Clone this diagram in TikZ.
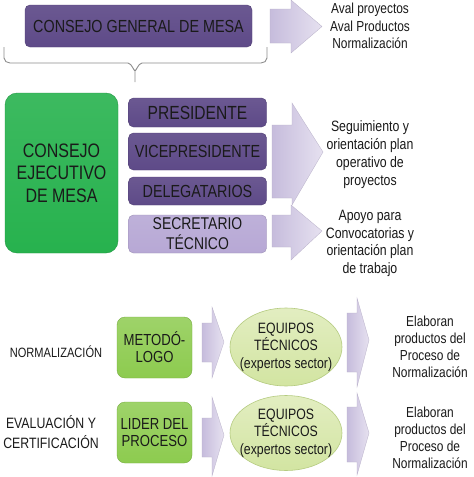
\documentclass[tikz,border=0pt]{standalone}
\usepackage{fontspec}
\setmainfont{Liberation Sans}[FakeStretch=0.82]
\usetikzlibrary{shapes.geometric}
\definecolor{dpurp}{HTML}{5E4A88}
\definecolor{lpurp}{HTML}{B7A8D5}
\definecolor{bgreen}{HTML}{27B24E}
\definecolor{lgreen}{HTML}{8DCB4F}
\definecolor{egreen}{HTML}{D6E6A6}
\definecolor{eborder}{HTML}{B5CB80}
\definecolor{arrL}{HTML}{C6BCDC}
\definecolor{arrR}{HTML}{E6E1F0}
\definecolor{txtc}{HTML}{1A1A1A}
\definecolor{bracec}{HTML}{8C8C8C}
\newcommand{\fs}[2]{\fontsize{#1}{#2}\selectfont}
\tikzset{
  txt/.style={text=txtc, align=center, inner sep=0pt},
  fsz/.style 2 args={font=\fs{#1}{#2}},
  pbox/.style={txt, draw=dpurp!85!black, line width=0.4pt, top color=dpurp!92!white, bottom color=dpurp, rounded corners=5pt},
  lpbox/.style={txt, draw=lpurp!85!black, line width=0.4pt, top color=lpurp!90!white, bottom color=lpurp, rounded corners=5pt},
  gbox/.style={txt, draw=bgreen!85!black, line width=0.4pt, top color=bgreen!90!white, bottom color=bgreen, rounded corners=12pt},
  lgbox/.style={txt, draw=lgreen!85!black, line width=0.4pt, top color=lgreen!85!white, bottom color=lgreen, rounded corners=8pt},
  eqell/.style={ellipse, inner sep=0pt, draw=eborder, line width=0.6pt, top color=egreen!70!white, bottom color=egreen!95!lgreen},
  blockarr/.style={left color=arrL, right color=arrR, draw=arrL!80!gray, line width=0.3pt},
  brace/.style={draw=bracec, line width=0.9pt, line join=round},
}
\begin{document}
\begin{tikzpicture}[x=1pt,y=-1pt]
\useasboundingbox (0,0) rectangle (474,477);
\fill[white] (0,0) rectangle (474,477);

% top box
\node[pbox, fsz={17.5}{20}, minimum width=227, minimum height=42] (cg) at (138.5,26) {CONSEJO GENERAL DE MESA};
\draw[blockarr] (270,9) -- (291,9) -- (291,0) -- (322,26.5) -- (291,53) -- (291,43) -- (270,43) -- cycle;
\node[txt, fsz={14.5}{17.5}] (aval) at (370,26) {Aval proyectos\\Aval Productos\\Normalización};

% brace
\coordinate (bl) at (4,47);
\coordinate (br) at (267,47);
\coordinate (bt) at (135,82);
\draw[brace] (bl) -- (4,58) to[out=-90,in=180] (10,63) -- (128,63) to[out=0,in=-90] (135,70) -- (bt);
\draw[brace] (br) -- (267,58) to[out=-90,in=0] (261,63) -- (142,63) to[out=180,in=-90] (135,70);

% executive council
\node[gbox, fsz={19.5}{22.5}, minimum width=113, minimum height=160] (ce) at (61.5,173) {CONSEJO\\EJECUTIVO\\DE MESA};
\node[pbox, fsz={19}{21}, minimum width=138, minimum height=29] (pres) at (197.5,112.5) {PRESIDENTE};
\node[pbox, fsz={17.5}{20}, minimum width=138, minimum height=37] (vice) at (197.5,151.5) {VICEPRESIDENTE};
\node[pbox, fsz={17.5}{20}, minimum width=138, minimum height=28] (deleg) at (197.5,191) {DELEGATARIOS};
\node[lpbox, fsz={17}{20}, minimum width=138, minimum height=38] (secr) at (197.5,234) {SECRETARIO\\TÉCNICO};

\draw[blockarr] (272,125) -- (292,125) -- (292,103) -- (323,152) -- (292,205) -- (292,198) -- (272,198) -- cycle;
\draw[blockarr] (272,215) -- (291,215) -- (291,205) -- (322,231) -- (291,260) -- (291,247) -- (272,247) -- cycle;

\node[txt, fsz={15}{18}] (seg) at (370,155) {Seguimiento y\\orientación plan\\operativo de\\proyectos};
\node[txt, fsz={15}{17.7}] (apoyo) at (370,243.5) {Apoyo para\\Convocatorias y\\orientación plan\\de trabajo};

% bottom rows
\node[txt, fsz={13.5}{16}] (norm) at (56,352) {NORMALIZACIÓN};
\node[txt, fsz={15}{20}] (eval) at (51,432) {EVALUACIÓN Y\\CERTIFICACIÓN};

\node[lgbox, fsz={16}{17}, minimum width=75, minimum height=61] (met) at (154.5,347.5) {METODÓ-\\LOGO};
\node[lgbox, fsz={16}{17}, minimum width=75, minimum height=61] (lider) at (154.5,432.5) {LIDER DEL\\PROCESO};

\draw[blockarr] (202,323) -- (212,323) -- (212,307) -- (224,342) -- (212,378) -- (212,362) -- (202,362) -- cycle;
\draw[blockarr] (202,418) -- (212,418) -- (212,397) -- (224,435) -- (212,476) -- (212,457) -- (202,457) -- cycle;

\node[eqell, minimum width=112, minimum height=78] (eq1) at (286,347) {};
\node[txt, fsz={15}{17.5}] (eq1t) at (eq1.center) {EQUIPOS\\TÉCNICOS\\(expertos sector)};
\node[eqell, minimum width=112, minimum height=75] (eq2) at (286,433) {};
\node[txt, fsz={15}{17.5}] (eq2t) at (eq2.center) {EQUIPOS\\TÉCNICOS\\(expertos sector)};

\draw[blockarr] (347,313) -- (357,313) -- (357,298) -- (369,340) -- (357,387) -- (357,372) -- (347,372) -- cycle;
\draw[blockarr] (347,407) -- (357,407) -- (357,393) -- (369,433) -- (357,475) -- (357,462) -- (347,462) -- cycle;

\node[txt, fsz={14.5}{16.8}] (elab1) at (430,347) {Elaboran\\productos del\\Proceso de\\Normalización};
\node[txt, fsz={14.5}{16.8}] (elab2) at (430,438) {Elaboran\\productos del\\Proceso de\\Normalización};
\end{tikzpicture}
\end{document}
